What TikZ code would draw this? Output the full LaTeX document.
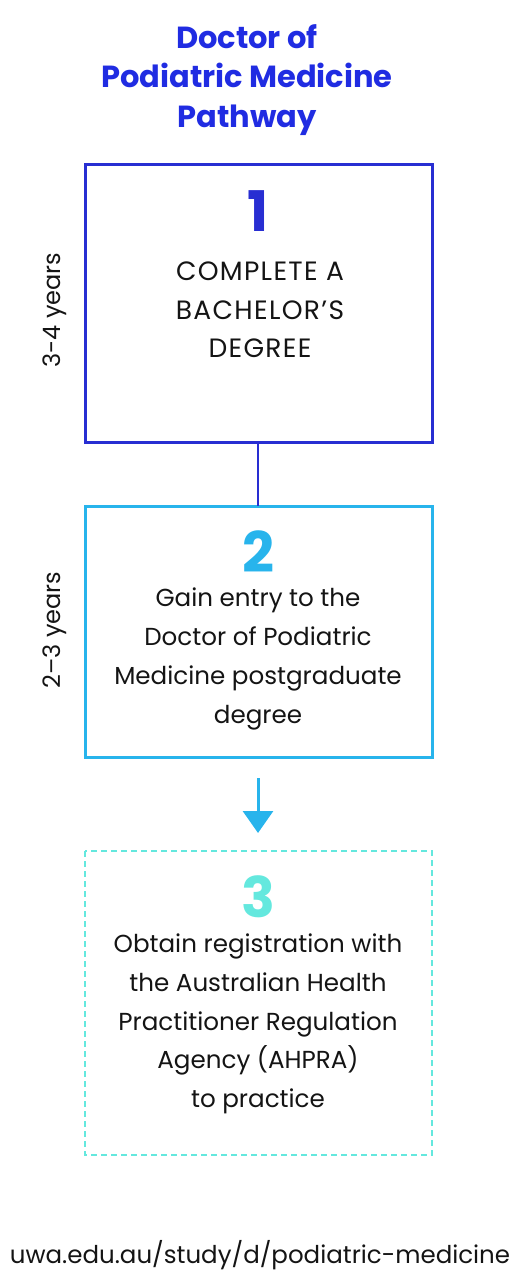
\documentclass[tikz,border=0pt]{standalone}
\usepackage{fontspec}
\setmainfont{Poppins}
\usetikzlibrary{arrows.meta}
\definecolor{titleblue}{RGB}{32,44,226}
\definecolor{boxone}{RGB}{40,46,210}
\definecolor{boxtwo}{RGB}{40,180,236}
\definecolor{boxthree}{RGB}{100,232,222}
\definecolor{txt}{RGB}{20,20,20}
\tikzset{
  stepframe/.style={line width=3pt},
  body/.style={align=center, font=\fontsize{24.6}{38.7}\selectfont, text=txt},
  bignum/.style={font=\fontsize{56}{56}\selectfont\bfseries},
  sidelabel/.style={rotate=90, font=\fontsize{24}{26}\selectfont, text=txt},
}
\begin{document}
\begin{tikzpicture}[x=1pt,y=-1pt]
\useasboundingbox (0,0) rectangle (527,1282);
\node[align=center, text=titleblue, font=\fontsize{30.5}{39.5}\selectfont\bfseries] (title) at (247,80) {Doctor of\\Podiatric Medicine\\Pathway};
% boxes
\draw[stepframe, draw=boxone] (85,164) rectangle (432,442);
\coordinate (b1top) at (258,164);
\coordinate (b1bot) at (258,442);
\node[bignum, text=boxone] (n1) at (258,211) {1};
\node[body, font=\fontsize{26.5}{38.7}\selectfont\addfontfeature{LetterSpace=5}] (t1) at (260,310) {COMPLETE A\\BACHELOR’S\\DEGREE};
\node[sidelabel] (s1) at (55,310) {3-4 years};

\draw[stepframe, draw=boxtwo] (85,506) rectangle (432,757);
\coordinate (b2top) at (258,506);
\coordinate (b2bot) at (258,757);
\node[bignum, text=boxtwo] (n2) at (258,552) {2};
\node[body] (t2) at (258,659) {Gain entry to the\\Doctor of Podiatric\\Medicine postgraduate\\degree};
\node[sidelabel] (s2) at (55,630) {2–3 years};

\draw[line width=2.2pt, draw=boxthree, dash pattern=on 6pt off 4pt] (85,851) rectangle (432,1155);
\coordinate (b3top) at (258,833);
\node[bignum, text=boxthree] (n3) at (258,897) {3};
\node[body] (t3) at (258,1024) {Obtain registration with\\the Australian Health\\Practitioner Regulation\\Agency (AHPRA)\\to practice};

\draw[line width=2.5pt, draw=boxone] (b1bot) -- (b2top);
\coordinate (a2start) at (258,778);
\draw[line width=3pt, draw=boxtwo, -{Triangle[width=30pt,length=22pt]}] (a2start) -- (b3top);

\node[font=\fontsize{24.5}{28}\selectfont, text=txt] (url) at (260,1255) {uwa.edu.au/study/d/podiatric-medicine};
\end{tikzpicture}
\end{document}
